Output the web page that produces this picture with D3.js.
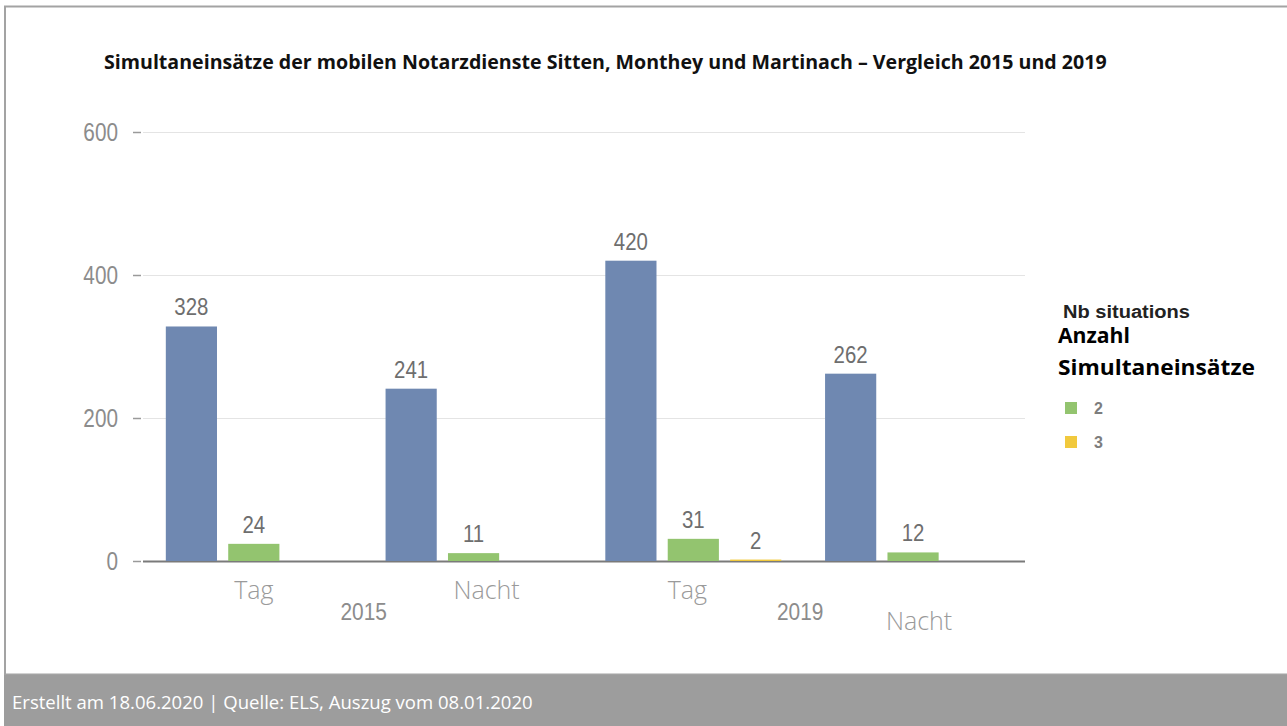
<!DOCTYPE html>
<html>
<head>
<meta charset="utf-8">
<script src="https://cdn.jsdelivr.net/npm/d3@7"></script>
<style>
  html, body { margin: 0; padding: 0; background: #fff; }
  svg { display: block; }
</style>
</head>
<body>
<svg id="chart" width="1287" height="726"></svg>
<script>
// ---- data ----
const categories = ["Tag", "Nacht", "Tag", "Nacht"];
const years = ["2015", "2019"];
const seriesKeys = ["1", "2", "3"];
const series1 = [328, 241, 420, 262];
const series2 = [24, 11, 31, 12];
const series3 = [null, null, 2, null];
const yTicks = [0, 200, 400, 600];
const legendKeys = ["2", "3"];
const titleText = "Simultaneinsätze der mobilen Notarzdienste Sitten, Monthey und Martinach – Vergleich 2015 und 2019";
const footerText = "Erstellt am 18.06.2020 | Quelle: ELS, Auszug vom 08.01.2020";
const legendTitle = ["Nb situations", "Anzahl", "Simultaneinsätze"];

const colors = { "1": "#6f88b1", "2": "#93c46f", "3": "#f1c93d" };
const values = { "1": series1, "2": series2, "3": series3 };

const narrow = "'Liberation Sans Narrow', 'Arial Narrow', 'Liberation Sans', sans-serif";
const human = "'Open Sans', 'Noto Sans', sans-serif";

// horizontally condense text to mimic the narrow fonts of the original
function squeeze(sel, f) {
  sel.each(function () {
    const w = this.getComputedTextLength();
    d3.select(this).attr("textLength", w * f).attr("lengthAdjust", "spacingAndGlyphs");
  });
}
function fitWidth(sel, target) {
  sel.each(function () {
    const w = this.getComputedTextLength();
    d3.select(this).attr("textLength", target).attr("lengthAdjust", "spacingAndGlyphs");
  });
}

const svg = d3.select("#chart");

// frame
svg.append("rect").attr("x", 5).attr("y", 6.5).attr("width", 1290).attr("height", 668)
  .attr("fill", "#fff").attr("stroke", "#a3a3a3").attr("stroke-width", 2);
svg.append("rect").attr("x", 4).attr("y", 675).attr("width", 1283).attr("height", 51)
  .attr("fill", "#9d9d9d");

// title
const title = svg.append("text").attr("x", 104).attr("y", 69)
  .attr("font-family", human).attr("font-weight", 700).attr("font-size", 18)
  .attr("fill", "#111").text(titleText);
{
  const w = title.node().getComputedTextLength();
  title.attr("font-size", 18 * 1003 / w);
}

// scales
const y = d3.scaleLinear().domain([0, 600]).range([561, 132]);
const x0 = d3.scaleBand().domain(d3.range(categories.length)).range([149, 1028])
  .paddingInner(0.153).paddingOuter(0.0765);
const x1 = d3.scaleBand().domain(seriesKeys).range([0, 176]).paddingInner(0.18);

// gridlines
const grid = svg.append("g").attr("transform", "translate(143,0)")
  .call(d3.axisLeft(y).tickValues(yTicks.filter(d => d > 0)).tickSize(-882).tickFormat(""));
grid.select(".domain").remove();
grid.selectAll("line").attr("stroke", "#e4e4e4").attr("stroke-width", 1.2);

// y axis ticks + labels
const yAxis = svg.append("g").attr("transform", "translate(141,0)")
  .call(d3.axisLeft(y).tickValues(yTicks).tickSize(8).tickPadding(15));
yAxis.select(".domain").remove();
yAxis.selectAll("line").attr("stroke", "#9a9a9a").attr("stroke-width", 1.5);
yAxis.selectAll("text").attr("font-family", narrow).attr("font-size", 25)
  .attr("fill", "#8c8c8c").attr("dy", "0.34em").call(squeeze, 0.83);

// baseline
svg.append("line").attr("x1", 143).attr("x2", 1025).attr("y1", y(0) + 0.5).attr("y2", y(0) + 0.5)
  .attr("stroke", "#7a7a7a").attr("stroke-width", 2);

// bars
const groups = svg.append("g").selectAll("g").data(categories.map((c, i) => i)).join("g")
  .attr("transform", i => `translate(${x0(i)},0)`);

const barData = i => seriesKeys.map(k => ({ k, v: values[k][i] })).filter(d => d.v != null);

groups.selectAll("rect").data(barData).join("rect")
  .attr("x", d => x1(d.k)).attr("width", x1.bandwidth())
  .attr("y", d => y(d.v)).attr("height", d => y(0) - y(d.v))
  .attr("fill", d => colors[d.k]);

groups.selectAll("text.val").data(barData).join("text").attr("class", "val")
  .attr("x", d => x1(d.k) + x1.bandwidth() / 2).attr("y", d => y(d.v) - 11)
  .attr("text-anchor", "middle").attr("font-family", narrow).attr("font-size", 24)
  .attr("fill", "#6e6e6e").text(d => d.v).call(squeeze, 0.85);

// x category labels (staggered like the original)
const catDx = [0, 13, -6, 6];
const catDy = [0, 0, 0, 31];
svg.append("g").selectAll("text").data(categories).join("text")
  .attr("x", (d, i) => x0(i) + 88 + catDx[i]).attr("y", (d, i) => 599 + catDy[i])
  .attr("text-anchor", "middle").attr("font-family", human).attr("font-weight", 300)
  .attr("font-size", 25).attr("fill", "#9a9a9a").text(d => d);

// year labels
svg.append("g").selectAll("text").data(years).join("text")
  .attr("x", (d, j) => (x0(2 * j) + x0(2 * j + 1)) / 2 + 88 + (j === 0 ? 0 : -3))
  .attr("y", 620)
  .attr("text-anchor", "middle").attr("font-family", narrow).attr("font-size", 24)
  .attr("fill", "#8c8c8c").text(d => d).call(squeeze, 0.87);

// legend
svg.append("text").attr("x", 1063).attr("y", 318)
  .attr("font-family", "'Liberation Sans', Arial, sans-serif").attr("font-weight", 700)
  .attr("font-size", 18).attr("fill", "#222").text(legendTitle[0]).call(fitWidth, 127);
const legTitles = svg.append("g").selectAll("text").data(legendTitle.slice(1)).join("text")
  .attr("x", 1058).attr("y", (d, i) => 343 + i * 32)
  .attr("font-family", human).attr("font-weight", 700).attr("font-size", 20.5)
  .attr("fill", "#000").text(d => d);
legTitles.filter((d, i) => i === 1).call(fitWidth, 197);
legTitles.filter((d, i) => i === 0).call(fitWidth, 72);

const leg = svg.append("g").selectAll("g").data(legendKeys).join("g")
  .attr("transform", (d, i) => `translate(1065,${402 + i * 34})`);
leg.append("rect").attr("width", 12).attr("height", 12).attr("fill", d => colors[d]);
leg.append("text").attr("x", 29).attr("y", 12)
  .attr("font-family", "'Liberation Sans', Arial, sans-serif").attr("font-weight", 700)
  .attr("font-size", 16).attr("fill", "#7d7d7d").text(d => d);

// footer
const foot = svg.append("text").attr("x", 12).attr("y", 709)
  .attr("font-family", human).attr("font-size", 15).attr("fill", "#fff").text(footerText);
{
  const w = foot.node().getComputedTextLength();
  foot.attr("font-size", 15 * 521 / w);
}
</script>
</body>
</html>
